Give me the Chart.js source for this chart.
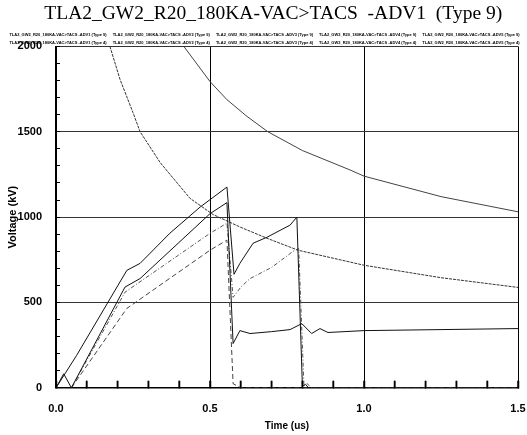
<!DOCTYPE html>
<html>
<head>
<meta charset="utf-8">
<script src="https://cdn.jsdelivr.net/npm/chart.js@4.4.1/dist/chart.umd.min.js"></script>
<style>
  body { margin: 0; background: #fff; }
  #wrap { width: 527px; height: 435px; }
</style>
</head>
<body>
<div id="wrap"><canvas id="myChart" width="527" height="435"></canvas></div>
<script>
const ctx = document.getElementById('myChart');

// waveforms (time in us, voltage in kV)
const tA = [0, 0.067, 0.23, 0.273, 0.37, 0.468, 0.555, 0.578, 0.597, 0.64, 0.685, 0.76, 0.782, 0.8, 0.81, 0.82, 1.5];
const vA = [0, 190, 688, 729, 906, 1059, 1176, 665, 729, 847, 882, 953, 1000, 10, 20, 0, 0];

const tB = [0, 0.025, 0.05, 0.224, 0.273, 0.5, 0.555, 0.575, 0.597, 0.63, 0.7, 0.76, 0.798, 0.83, 0.857, 0.883, 1.0, 1.5];
const vB = [0, 82, 0, 590, 640, 1020, 1085, 259, 335, 318, 329, 341, 376, 318, 347, 324, 335, 347];

const tC = [0.05, 0.224, 0.5, 0.555, 0.575, 0.6, 0.63, 0.7, 0.77, 0.788, 0.805, 0.815, 0.83, 1.5];
const vC = [0, 560, 905, 965, 530, 590, 640, 705, 800, 815, 10, 25, 0, 0];

const tD = [0.05, 0.23, 0.5, 0.555, 0.575, 0.6, 1.5];
const vD = [0, 465, 806, 865, 24, 0, 0];

// withstand (volt-time) curves
const tV1 = [0.415, 0.5, 0.555, 0.62, 0.688, 0.8, 0.955, 1.0, 1.25, 1.5];
const vV1 = [2000, 1794, 1688, 1590, 1500, 1390, 1276, 1240, 1120, 1031];

const tV2 = [0.175, 0.208, 0.25, 0.273, 0.338, 0.435, 0.51, 0.6, 0.685, 0.786, 1.0, 1.25, 1.5];
const vV2 = [2000, 1806, 1612, 1500, 1320, 1110, 1015, 940, 876, 806, 718, 645, 588];

const legendNames = [
    'TLA2_GW2_R20_180KA-VAC>TACS -ADV1 (Type 9)', 'TLA2_GW2_R20_180KA-VAC>TACS -ADV2 (Type 9)',
    'TLA2_GW2_R20_180KA-VAC>TACS -ADV3 (Type 9)', 'TLA2_GW2_R20_180KA-VAC>TACS -ADV4 (Type 9)',
    'TLA2_GW2_R20_180KA-VAC>TACS -ADV5 (Type 9)', 'TLA2_GW2_R20_180KA-VAC>TACS -ADV1 (Type 4)',
    'TLA2_GW2_R20_180KA-VAC>TACS -ADV2 (Type 4)', 'TLA2_GW2_R20_180KA-VAC>TACS -ADV3 (Type 4)',
    'TLA2_GW2_R20_180KA-VAC>TACS -ADV4 (Type 4)', 'TLA2_GW2_R20_180KA-VAC>TACS -ADV5 (Type 4)'
];

const pts = (t, v) => t.map((x, i) => ({x: x, y: v[i]}));

function line(label, t, v, color, dash) {
    return {
        label: label,
        data: pts(t, v),
        borderColor: color,
        borderWidth: 1,
        borderDash: dash,
        pointRadius: 0,
        tension: 0,
        fill: false
    };
}

// minor tick marks standing up from the time axis
const timeTicks = {
    id: 'timeTicks',
    afterDraw(chart) {
        const xs = chart.scales.x;
        const c = chart.ctx;
        const base = chart.chartArea.bottom;
        c.save();
        c.strokeStyle = '#000';
        c.lineWidth = 1.5;
        xs.ticks.forEach(tk => {
            const px = xs.getPixelForValue(tk.value);
            c.beginPath();
            c.moveTo(px, base);
            c.lineTo(px, base - 7);
            c.stroke();
        });
        c.restore();
    }
};

new Chart(ctx, {
    type: 'line',
    data: {
        datasets: [
            line(legendNames[0], tA, vA, '#111', []),
            line(legendNames[1], tB, vB, '#111', []),
            line(legendNames[2], tC, vC, '#555', [4, 2, 1, 2]),
            line(legendNames[3], tD, vD, '#444', [5, 3]),
            line(legendNames[4], tV1, vV1, '#444', []),
            line(legendNames[5], tV2, vV2, '#333', [3, 1])
        ]
    },
    plugins: [timeTicks],
    options: {
        responsive: false,
        animation: false,
        layout: { padding: 0 },
        scales: {
            x: {
                type: 'linear',
                min: 0,
                max: 1.5,
                border: { color: '#000', width: 1.5 },
                grid: {
                    drawTicks: true,
                    tickLength: -7,
                    tickColor: '#000',
                    tickWidth: 1.5,
                    color: c => (Math.round(c.tick.value * 10) % 5 === 0 ? '#000' : 'rgba(0,0,0,0)'),
                    lineWidth: 1
                },
                ticks: {
                    stepSize: 0.1,
                    autoSkip: false,
                    maxRotation: 0,
                    padding: 22,
                    color: '#000',
                    font: { family: 'Liberation Sans', size: 11, weight: 'bold' },
                    callback: v => (Math.round(v * 10) % 5 === 0 ? v.toFixed(1) : '')
                },
                title: {
                    display: true,
                    text: 'Time (us)',
                    color: '#000',
                    padding: { top: -18, bottom: 3 },
                    font: { family: 'Liberation Sans', size: 10, weight: 'bold' }
                },
                afterFit: s => { s.paddingRight = 9; s.paddingLeft = 0; }
            },
            y: {
                min: 0,
                max: 2000,
                border: { color: '#000', width: 1.5 },
                grid: {
                    drawTicks: true,
                    tickLength: -4,
                    tickColor: '#000',
                    tickWidth: 1,
                    color: c => (c.tick.value % 500 === 0 ? '#333' : 'rgba(0,0,0,0)'),
                    lineWidth: 1
                },
                ticks: {
                    stepSize: 100,
                    autoSkip: false,
                    padding: 18,
                    color: '#000',
                    font: { family: 'Liberation Sans', size: 11, weight: 'bold' },
                    callback: v => (v % 500 === 0 ? v : '')
                },
                title: {
                    display: true,
                    text: 'Voltage (kV)',
                    color: '#000',
                    padding: { top: 6, bottom: 0 },
                    font: { family: 'Liberation Sans', size: 11, weight: 'bold' }
                },
                afterFit: s => { s.width = 56; }
            }
        },
        plugins: {
            title: {
                display: true,
                text: '\u2003TLA2_GW2_R20_180KA-VAC>TACS  -ADV1  (Type 9)',
                color: '#000',
                padding: { top: 2, bottom: 3 },
                font: { family: 'Liberation Serif', size: 19.5, weight: 'normal' }
            },
            legend: {
                display: true,
                maxHeight: 18,
                labels: {
                    boxWidth: 0,
                    boxHeight: 0,
                    padding: 4,
                    color: '#000',
                    font: { family: 'Liberation Sans', size: 4, weight: 'bold' },
                    generateLabels: () => legendNames.map(n => ({
                        text: n,
                        fillStyle: 'rgba(0,0,0,0)',
                        strokeStyle: 'rgba(0,0,0,0)',
                        lineWidth: 0,
                        hidden: false
                    }))
                }
            },
            tooltip: { enabled: false }
        }
    }
});
</script>
</body>
</html>
